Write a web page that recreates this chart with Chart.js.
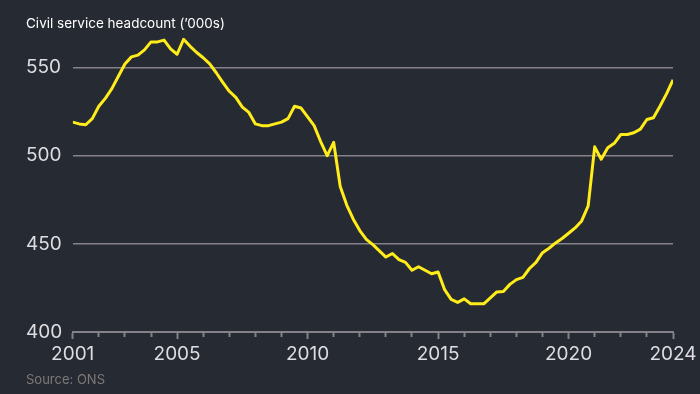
<html lang="en">
  <head>
    <meta charset="utf-8" />
    <title>Civil service headcount</title>
    <script src="https://cdn.jsdelivr.net/npm/chart.js@4.4.0/dist/chart.umd.min.js"></script>
    <style>
      * {
        margin: 0;
        padding: 0;
        box-sizing: border-box;
      }
      body {
        background: #262a33;
        width: 700px;
        height: 394px;
        overflow: hidden;
      }
      #chart {
        display: block;
      }
    </style>
  </head>
  <body>
    <canvas id="chart" width="700" height="394"></canvas>

    <script>
      //first quarter shown, one value per quarter after that
      const startYear = 2001;
      //headcount in thousands (2001 Q1 .. 2024 Q1)
      const headcount = [
        519, 518, 517.5, 521, 528, 532.5, 538, 545, 552, 556, 557, 560,
        564.5, 564.5, 565.5, 560.5, 557.5, 566, 562, 558.5, 555.5, 552, 547, 541.5,
        536.5, 533, 527.5, 524.5, 518, 517, 517, 518, 519, 521, 528, 527,
        522, 517, 508, 500, 507.5, 482.5, 472, 464, 457.5, 452.5, 449.5, 446,
        442.5, 444.5, 441, 439.5, 435, 437, 435, 433, 434, 424, 418.5, 416.8,
        418.8, 416, 416, 416, 419.3, 422.7, 423, 427, 429.7, 431, 436, 439.5,
        445, 447.5, 450.5, 453, 456, 459, 463, 471.5, 505, 498, 504.5, 507,
        512, 512, 513, 515, 520.5, 521.5, 528, 535, 543,
      ];
      //years that get a label on the x axis
      const labelYears = [2001, 2005, 2010, 2015, 2020, 2024];
      //y axis ticks
      const yTicks = [400, 450, 500, 550];

      const gridGrey = "#858189";
      const points = headcount.map((v, i) => ({ x: startYear + i / 4, y: v }));

      //a tick for every year, long ones only where there is a label
      const yearTicks = [];
      for (let y = labelYears[0]; y <= labelYears[labelYears.length - 1]; y++) {
        yearTicks.push({ value: y });
      }

      new Chart(document.getElementById("chart"), {
        type: "line",
        data: {
          datasets: [
            {
              data: points,
              borderColor: "#ffec1a",
              borderWidth: 3,
              pointRadius: 0,
              tension: 0,
              borderJoinStyle: "round",
            },
          ],
        },
        options: {
          responsive: false,
          animation: false,
          layout: { padding: { left: 26, right: 27, top: 0, bottom: 0 } },
          plugins: {
            legend: { display: false },
            tooltip: { enabled: false },
            title: {
              display: true,
              text: "Civil service headcount (\u2019000s)",
              align: "start",
              color: "#ffffff",
              font: { family: "Inter", size: 13.5, weight: "normal" },
              padding: { top: 16, bottom: 0 },
            },
            subtitle: {
              display: true,
              position: "bottom",
              text: "Source: ONS",
              align: "start",
              color: "#7d7979",
              font: { family: "Inter", size: 13, weight: "normal" },
              padding: { top: 0, bottom: 6 },
            },
          },
          scales: {
            x: {
              type: "linear",
              min: labelYears[0],
              max: labelYears[labelYears.length - 1],
              afterBuildTicks: (scale) => {
                scale.ticks = yearTicks.map((t) => ({ value: t.value }));
              },
              afterFit: (scale) => {
                scale.height = 40.4;
                scale.paddingLeft = 0;
                scale.paddingRight = 0;
              },
              ticks: {
                autoSkip: false,
                maxRotation: 0,
                padding: 4,
                color: "#dedde2",
                font: { family: "Inter", size: 19 },
                callback: (v) => (labelYears.includes(v) ? String(v) : ""),
              },
              grid: {
                drawOnChartArea: false,
                drawTicks: true,
                tickLength: 7,
                tickWidth: 2,
                tickColor: gridGrey,
                tickBorderDash: (ctx) =>
                  ctx.tick && labelYears.includes(ctx.tick.value) ? [] : [4, 20],
              },
              border: { display: true, color: gridGrey, width: 2 },
            },
            y: {
              min: 400,
              max: 570,
              afterBuildTicks: (scale) => {
                scale.ticks = yTicks.map((v) => ({ value: v }));
              },
              afterFit: (scale) => {
                scale.width = 46.7;
                scale.paddingTop = 0;
                scale.paddingBottom = 0;
              },
              ticks: {
                crossAlign: "far",
                color: "#dedde2",
                font: { family: "Inter", size: 19 },
              },
              grid: {
                color: gridGrey,
                lineWidth: 1.5,
                drawTicks: false,
              },
              border: { display: false },
            },
          },
        },
      });
    </script>
  </body>
</html>
